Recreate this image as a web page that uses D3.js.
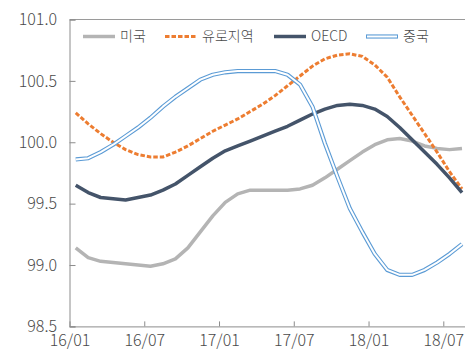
<!DOCTYPE html>
<html>
<head>
<meta charset="utf-8">
<script src="https://cdn.jsdelivr.net/npm/d3@7/dist/d3.min.js"></script>
<style>
  html, body { margin: 0; padding: 0; background: #fff; }
  svg { display: block; }
  text { font-family: "Noto Sans CJK KR", "Noto Sans", sans-serif; fill: #4a4a4a; }
</style>
</head>
<body>
<svg id="chart" width="465" height="356"></svg>
<script>
// Monthly index values, 2016-01 .. 2018-08
const months = ["16/01","16/02","16/03","16/04","16/05","16/06","16/07","16/08","16/09","16/10","16/11","16/12",
                "17/01","17/02","17/03","17/04","17/05","17/06","17/07","17/08","17/09","17/10","17/11","17/12",
                "18/01","18/02","18/03","18/04","18/05","18/06","18/07","18/08"];

const usa = [99.14, 99.06, 99.03, 99.02, 99.01, 99.00, 98.99, 99.01, 99.05, 99.14, 99.27, 99.40,
             99.51, 99.58, 99.61, 99.61, 99.61, 99.61, 99.62, 99.65, 99.71, 99.78, 99.85, 99.92,
             99.98, 100.02, 100.03, 100.01, 99.97, 99.95, 99.94, 99.95];

const euro = [100.24, 100.15, 100.07, 100.00, 99.94, 99.90, 99.88, 99.88, 99.92, 99.97, 100.03, 100.09,
              100.14, 100.19, 100.25, 100.31, 100.38, 100.46, 100.54, 100.62, 100.68, 100.71, 100.72, 100.70,
              100.63, 100.53, 100.37, 100.22, 100.07, 99.92, 99.76, 99.62];

const oecd = [99.65, 99.59, 99.55, 99.54, 99.53, 99.55, 99.57, 99.61, 99.66, 99.73, 99.80, 99.87,
              99.93, 99.97, 100.01, 100.05, 100.09, 100.13, 100.18, 100.23, 100.27, 100.30, 100.31, 100.30,
              100.27, 100.21, 100.12, 100.02, 99.92, 99.82, 99.71, 99.59];

const china = [99.86, 99.87, 99.92, 99.98, 100.05, 100.12, 100.20, 100.29, 100.37, 100.44, 100.51, 100.55,
               100.57, 100.58, 100.58, 100.58, 100.58, 100.55, 100.47, 100.29, 99.99, 99.72, 99.46, 99.27,
               99.09, 98.96, 98.92, 98.92, 98.96, 99.02, 99.09, 99.17];

const seriesNames = ["미국", "유로지역", "OECD", "중국"];
const yTicks = [98.5, 99.0, 99.5, 100.0, 100.5, 101.0];
const xTickIdx = [0, 6, 12, 18, 24, 30];

const svg = d3.select("#chart");
const plotLeft = 69.5, plotTop = 19.5, plotBottom = 326.4, step = 12.46;
const euroDash = "4.5,2";

const x = d3.scaleLinear().domain([0, months.length]).range([plotLeft, plotLeft + months.length * step]);
const y = d3.scaleLinear().domain([98.5, 101]).range([plotBottom, plotTop]);

// plot frame top edge
svg.append("line")
  .attr("x1", plotLeft).attr("x2", 465).attr("y1", plotTop).attr("y2", plotTop)
  .attr("stroke", "#9a9a9a").attr("stroke-width", 1);

// y axis
const yAxis = svg.append("g")
  .attr("transform", `translate(${plotLeft},0)`)
  .call(d3.axisLeft(y).tickValues(yTicks).tickFormat(d3.format(".1f")).tickSize(-6).tickPadding(12.5));
yAxis.selectAll("text").style("font-size", "16px").style("font-weight", 300).attr("fill", "#4a4a4a");

// x axis
const xAxis = svg.append("g")
  .attr("transform", `translate(0,${plotBottom})`)
  .call(d3.axisBottom(x).tickValues(xTickIdx).tickFormat(i => months[i]).tickSize(-5).tickPadding(8.5));
xAxis.selectAll("text").style("font-size", "16px").style("font-weight", 300).attr("fill", "#4a4a4a");

[yAxis, xAxis].forEach(g => {
  g.select(".domain").attr("stroke", "#8c8c8c");
  g.selectAll(".tick line").attr("stroke", "#8c8c8c");
});
xAxis.select(".domain").attr("d", `M${plotLeft},0.5H465`);

const line = d3.line().x((d, i) => x(i + 0.5)).y(d => y(d));

// 미국
svg.append("path").datum(usa).attr("d", line)
  .attr("fill", "none").attr("stroke", "#b4b4b4").attr("stroke-width", 3.5).attr("stroke-linejoin", "round");
// 유로지역
svg.append("path").datum(euro).attr("d", line)
  .attr("fill", "none").attr("stroke", "#ed7d31").attr("stroke-width", 3).attr("stroke-dasharray", euroDash);
// OECD
svg.append("path").datum(oecd).attr("d", line)
  .attr("fill", "none").attr("stroke", "#44546a").attr("stroke-width", 3.5).attr("stroke-linejoin", "round");
// 중국 (double line)
svg.append("path").datum(china).attr("d", line)
  .attr("fill", "none").attr("stroke", "#5b9bd5").attr("stroke-width", 4.2).attr("stroke-linejoin", "round");
svg.append("path").datum(china).attr("d", line)
  .attr("fill", "none").attr("stroke", "#ffffff").attr("stroke-width", 2).attr("stroke-linejoin", "round");

// legend
const legendItems = [
  { name: seriesNames[0], x: 83, color: "#b4b4b4", w: 3.5, dash: null, dbl: false },
  { name: seriesNames[1], x: 165, color: "#ed7d31", w: 3, dash: euroDash, dbl: false },
  { name: seriesNames[2], x: 274, color: "#44546a", w: 3.5, dash: null, dbl: false },
  { name: seriesNames[3], x: 366, color: "#5b9bd5", w: 4.2, dash: null, dbl: true }
];
const ly = 36.5;
const lg = svg.append("g");
legendItems.forEach(it => {
  lg.append("line").attr("x1", it.x).attr("x2", it.x + 32).attr("y1", ly).attr("y2", ly)
    .attr("stroke", it.color).attr("stroke-width", it.w).attr("stroke-dasharray", it.dash);
  if (it.dbl) {
    lg.append("line").attr("x1", it.x + 1).attr("x2", it.x + 31).attr("y1", ly).attr("y2", ly)
      .attr("stroke", "#fff").attr("stroke-width", 2);
  }
  lg.append("text").attr("x", it.x + 37).attr("y", ly).attr("dy", "0.35em")
    .style("font-size", "14px").style("font-weight", 300).text(it.name);
});
</script>
</body>
</html>
